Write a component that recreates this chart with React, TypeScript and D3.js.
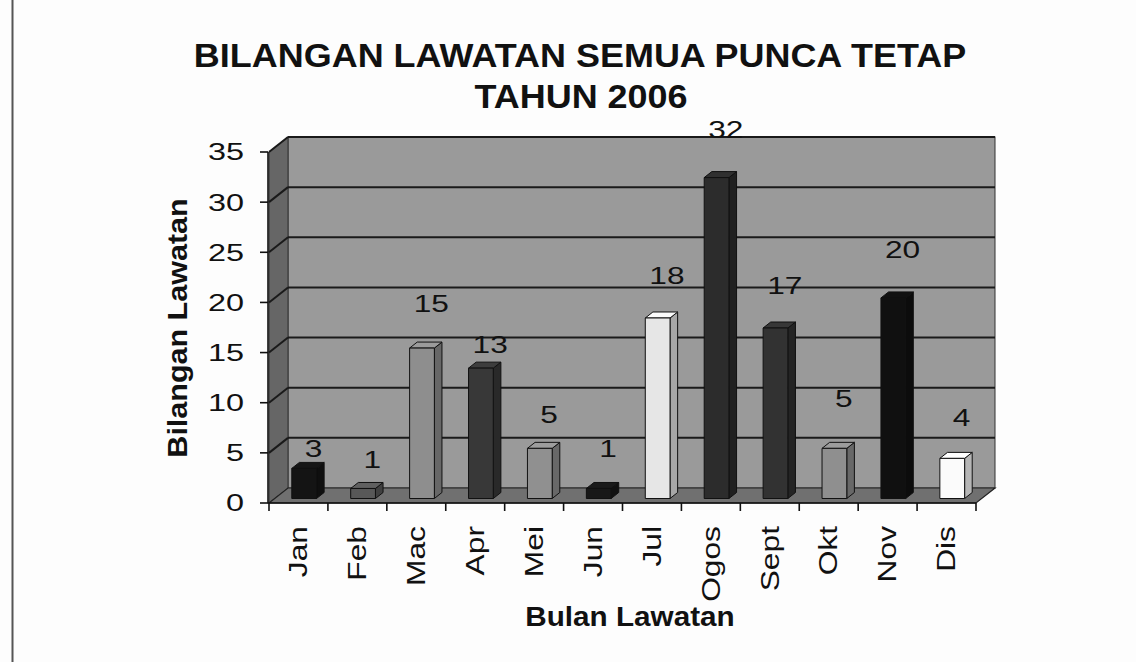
import React from "react";
import * as d3 from "d3";

const months = ["Jan", "Feb", "Mac", "Apr", "Mei", "Jun", "Jul", "Ogos", "Sept", "Okt", "Nov", "Dis"];
const visits = [3, 1, 15, 13, 5, 1, 18, 32, 17, 5, 20, 4];
const yTicks = [0, 5, 10, 15, 20, 25, 30, 35];
const titleLines = ["BILANGAN LAWATAN SEMUA PUNCA TETAP", "TAHUN 2006"];
const yTitle = "Bilangan Lawatan";
const xTitle = "Bulan Lawatan";

// styling (per-point shades, as printed in grayscale)
const barShades = ["#141414", "#585858", "#8e8e8e", "#383838", "#909090", "#181818", "#e6e6e6", "#2c2c2c", "#323232", "#8f8f8f", "#101010", "#fbfbfb"];
// manual label nudges (gap in px between bar top and label centre)
const labelLift = [20, 29, 44, 24, 34, 40, 42, 48, 42, 50, 48, 41];

const W = 1136, H = 662;
const X0 = 269, X1 = 976, Y0 = 503, Y1 = 152;
const DX = 19, DY = 15;

function WText({ x, y, rot = 0, sx = 1, size, bold = false, anchor = "middle", dy = "0", children }: any) {
  return (
    <text
      transform={`translate(${x},${y}) rotate(${rot}) scale(${sx},1)`}
      fontFamily="'Liberation Sans', Arial, sans-serif"
      fontSize={size}
      fontWeight={bold ? "bold" : "normal"}
      textAnchor={anchor}
      dy={dy}
      fill="#111"
    >
      {children}
    </text>
  );
}

export default function App() {
  const x = d3.scaleBand<string>().domain(months).range([X0, X1]).padding(0);
  const y = d3.scaleLinear().domain([0, 35]).range([Y0, Y1]);
  const bw = x.bandwidth();
  const yMax = y(35);

  const backTop = yMax - DY;
  const backBot = Y0 - DY;

  return (
    <svg width={W} height={H} style={{ position: "absolute", left: 0, top: 0, background: "#fdfdfd" }}>
      <rect x={0} y={0} width={W} height={H} fill="#fdfdfd" />
      <line x1={12.5} y1={0} x2={12.5} y2={H} stroke="#555" strokeWidth={2} />

      {/* title */}
      <WText x={580} y={67} size={33} bold sx={1.09}>{titleLines[0]}</WText>
      <WText x={581} y={108} size={33} bold sx={1.09}>{titleLines[1]}</WText>

      {/* back wall */}
      <rect x={X0 + DX} y={backTop} width={X1 - X0} height={backBot - backTop} fill="#9a9a9a" stroke="#333" strokeWidth={1} />
      {/* side wall */}
      <polygon
        points={`${X0},${Y0} ${X0 + DX},${backBot} ${X0 + DX},${backTop} ${X0},${yMax}`}
        fill="#666"
        stroke="#333"
        strokeWidth={1}
      />
      {/* gridlines */}
      {yTicks.slice(1).map((t) => (
        <g key={`g${t}`}>
          <line x1={X0} y1={y(t)} x2={X0 + DX} y2={y(t) - DY} stroke="#1a1a1a" strokeWidth={2} />
          <line x1={X0 + DX} y1={y(t) - DY} x2={X1 + DX} y2={y(t) - DY} stroke="#1a1a1a" strokeWidth={2} />
        </g>
      ))}
      {/* floor */}
      <polygon
        points={`${X0},${Y0} ${X1},${Y0} ${X1 + DX},${backBot} ${X0 + DX},${backBot}`}
        fill="#707070"
        stroke="#222"
        strokeWidth={1.2}
      />

      {/* bars */}
      {months.map((m, i) => {
        const v = visits[i];
        const c = barShades[i];
        const fw = bw * 0.42;
        const fx0 = (x(m) as number) + bw * 0.29 + 0.3 * DX;
        const ytop = y(v) - 0.3 * DY;
        const ybot = y(0) - 0.3 * DY;
        const ddx = 0.4 * DX, ddy = 0.4 * DY;
        const side = d3.color(c)!.darker(0.9).formatHex();
        const top = d3.color(c)!.brighter(0.25).formatHex();
        return (
          <g key={m} stroke="#111" strokeWidth={1} strokeLinejoin="round">
            <polygon
              points={`${fx0 + fw},${ytop} ${fx0 + fw + ddx},${ytop - ddy} ${fx0 + fw + ddx},${ybot - ddy} ${fx0 + fw},${ybot}`}
              fill={side}
            />
            <polygon
              points={`${fx0},${ytop} ${fx0 + fw},${ytop} ${fx0 + fw + ddx},${ytop - ddy} ${fx0 + ddx},${ytop - ddy}`}
              fill={top}
            />
            <rect x={fx0} y={ytop} width={fw} height={ybot - ytop} fill={c} />
          </g>
        );
      })}

      {/* axes */}
      <line x1={X0 - 1} y1={yMax} x2={X0 - 1} y2={Y0} stroke="#111" strokeWidth={1.6} />
      <line x1={X0 - 1} y1={Y0} x2={X1} y2={Y0} stroke="#111" strokeWidth={1.6} />
      {yTicks.map((t) => (
        <g key={`yt${t}`}>
          <line x1={X0 - 9} y1={y(t)} x2={X0 - 1} y2={y(t)} stroke="#111" strokeWidth={1.6} />
          <WText x={244} y={y(t)} size={24} sx={1.35} anchor="end" dy="0.35em">{t}</WText>
        </g>
      ))}
      {[...months.map((m) => x(m) as number), X1].map((px, i) => (
        <line key={`xt${i}`} x1={px} y1={Y0} x2={px} y2={Y0 + 8} stroke="#111" strokeWidth={1.6} />
      ))}
      {months.map((m) => (
        <WText key={`xl${m}`} x={(x(m) as number) + bw / 2} y={526} rot={-90} size={25} sx={1.27} anchor="end" dy="0.35em">
          {m}
        </WText>
      ))}

      {/* data labels */}
      {months.map((m, i) => (
        <WText
          key={`dl${m}`}
          x={(x(m) as number) + bw / 2 + 15}
          y={y(visits[i]) - 0.3 * DY - labelLift[i]}
          size={24}
          sx={1.32}
          dy="0.35em"
        >
          {visits[i]}
        </WText>
      ))}

      {/* axis titles */}
      <WText x={187} y={328} rot={-90} size={28} bold sx={1.09}>{yTitle}</WText>
      <WText x={630} y={626} size={28} bold sx={1.06}>{xTitle}</WText>
    </svg>
  );
}
